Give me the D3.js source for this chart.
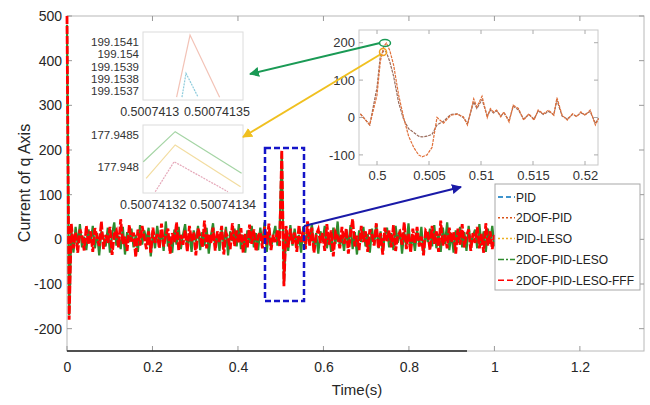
<!DOCTYPE html>
<html><head><meta charset="utf-8">
<script src="https://cdn.jsdelivr.net/npm/d3@7"></script>
<style>body{margin:0;background:#fff}svg{display:block;font-family:"Liberation Sans",Arial,sans-serif}</style>
</head><body><svg id="c" width="650" height="405"></svg>
<script>
// ---------------- data ----------------
const seriesNames = ["PID","2DOF-PID","PID-LESO","2DOF-PID-LESO","2DOF-PID-LESO-FFF"];
const xTicks = [0,0.2,0.4,0.6,0.8,1,1.2];
const xTickLabels = ["0","0.2","0.4","0.6","0.8","1","1.2"];
const yTicks = [500,400,300,200,100,0,-100,-200];
const timeStart = 0, timeEnd = 1.0;
// 2DOF-PID-LESO-FFF current (main view)
const fffCurrent = [500,-180,35,-20,15,-30,22,8,-25,30,
 -12,18,-28,25,5,-15,40,-22,10,-8,
 28,-35,12,20,-18,45,-10,6,-26,32,
 -5,15,-40,22,-14,30,3,-22,18,-30,
 26,-8,12,-20,35,-16,8,24,-32,14,
 -6,38,-24,10,-12,20,-28,30,-4,16,
 -36,24,8,-18,42,-20,12,-10,26,-25,
 18,-6,30,-34,14,4,-22,36,-15,20,
 -8,25,-30,12,-18,33,-10,22,-27,8,
 16,-20,28,-12,35,-24,10,-6,20,-15,
 200,-105,30,-18,24,-10,15,-28,32,-6,
 18,-22,40,-14,26,-30,10,22,-8,14,
 -26,34,-12,20,-38,16,6,-20,28,-10,
 24,-32,12,45,-16,8,-24,30,-6,18,
 -28,22,10,-14,36,-20,14,-34,26,-4,
 20,-18,32,-26,8,16,-12,38,-22,12,
 -30,24,-8,28,-16,6,-36,20,14,-24,
 30,-10,18,-28,42,-14,10,-20,26,-6,
 16,-32,24,-12,34,-18,8,22,-26,14,
 -8,28,-20,12,-30,36,-14,18,-22,10];
// 2DOF-PID-LESO current (main view)
const lesoCurrent = [480,-170,20,-30,28,-12,34,-18,6,-24,
 22,-8,30,-20,14,-36,18,4,-16,26,
 -30,12,38,-14,8,-22,28,-34,16,-6,
 24,-18,10,-28,32,-12,20,-4,26,-38,
 14,-20,30,-8,18,-26,40,-16,6,-30,
 22,-12,28,-22,10,34,-18,14,-28,20,
 -6,30,-24,16,-14,26,-32,8,36,-20,
 12,-26,22,-10,28,-36,18,-4,24,-16,
 34,-22,10,-30,20,-8,30,-18,14,-24,
 26,-12,38,-28,16,-20,8,30,-14,22,
 195,-100,20,-26,32,-14,24,-20,10,-30,
 28,-16,22,-8,36,-24,14,-32,18,-6,
 30,-20,12,-28,26,-10,40,-18,8,-26,
 22,-14,32,-22,16,-34,20,-6,28,-16,
 12,-30,24,-12,34,-20,18,-28,10,26,
 -18,14,-24,30,-8,22,-32,16,-14,36,
 -22,10,-26,20,-12,28,-34,18,-6,24,
 -16,32,-20,12,-28,26,-10,38,-24,14,
 -30,20,-8,28,-18,16,-26,30,-12,8,
 22,-20,34,-14,18,-28,24,-10,30,-16];
// zoomed inset (0.498 - 0.521 s)
const zoomTime = [0.4984,0.4993,0.5000,0.50032,0.50064,0.5009,0.50122,0.5016,0.50208,0.50256,
 0.50304,0.50353,0.5040,0.50433,0.50481,0.50529,0.50577,0.5064,0.5071,0.5077,
 0.5083,0.5087,0.5093,0.5096,0.5101,0.5106,0.5109,0.5112,0.5115,0.5119,
 0.5122,0.5127,0.5131,0.5136,0.5141,0.5146,0.5151,0.5155,0.5160,0.5165,
 0.5170,0.5173,0.5178,0.5183,0.5188,0.5192,0.5196,0.5200,0.5205,0.5210,0.5213];
const zoomA = [10,-20,60,150,190,199,180,140,60,0,
 -50,-80,-100,-105,-100,-80,0,-15,6,9,
 2,-20,50,28,57,0,24,15,20,2,
 15,-12,33,24,-7,10,-7,20,10,20,
 6,53,6,-7,10,2,15,6,20,-20,-3];
const zoomB = [10,-20,80,165,178,175,150,110,40,-5,
 -30,-40,-50,-52,-50,-45,-20,-10,8,10,
 0,-16,42,24,48,4,20,12,18,4,
 12,-8,30,20,-4,8,-4,18,8,16,
 8,46,4,-4,8,4,12,8,16,-16,-2];
// peak detail insets
const peak1Time = {pid:[0.500741324,0.500741327,0.500741336], dof:[0.50074132,0.50074133,0.500741352]};
const peak1Val  = {pid:[199.15365,199.153845,199.15365], dof:[199.15365,199.154157,199.15365]};
const peak2Time = {leso:[0.5007413172,0.5007413263,0.5007413453], pidleso:[0.500741318,0.5007413263,0.500741345], fff:[0.5007413206,0.500741326,0.5007413414]};
const peak2Val  = {leso:[177.948083,177.948552,177.947902], pidleso:[177.947823,177.948344,177.947692], fff:[177.947614,177.948083,177.947614]};
const peak1YTicks = [199.1541,199.154,199.1539,199.1538,199.1537];
const peak1XTicks = [0.5007413,0.50074135];
const peak2YTicks = [177.9485,177.948];
const peak2XTicks = [0.50074132,0.50074134];
const zoomXTicks = [0.5,0.505,0.51,0.515,0.52];
const zoomYTicks = [200,100,0,-100];

// ---------------- drawing ----------------
const svg = d3.select("#c");
const fmt = d => String(d);
const colors = {"PID":"#0072BD","2DOF-PID":"#D95319","PID-LESO":"#EDB120","2DOF-PID-LESO":"#2e8b2e","2DOF-PID-LESO-FFF":"#ff0000"};
const dashes = {"PID":"5,3","2DOF-PID":"2,2","PID-LESO":"2,2","2DOF-PID-LESO":"6,2,2,2","2DOF-PID-LESO-FFF":"6,3"};

const L=67,R=644,T=16,B=351;
const x = d3.scaleLinear().domain([0,1.35]).range([L,R]);
const y = d3.scaleLinear().domain([-250,500]).range([B,T]);

// box
svg.append("rect").attr("x",L).attr("y",T).attr("width",R-L).attr("height",B-T).attr("fill","#fff").attr("stroke","#b8b8b8").attr("stroke-width",1);
const g = svg.append("g");
xTicks.forEach(v=>{
  g.append("line").attr("x1",x(v)).attr("x2",x(v)).attr("y1",B).attr("y2",B-5).attr("stroke","#999");
  g.append("line").attr("x1",x(v)).attr("x2",x(v)).attr("y1",T).attr("y2",T+5).attr("stroke","#999");
});
yTicks.forEach(v=>{
  g.append("line").attr("x1",L).attr("x2",L+5).attr("y1",y(v)).attr("y2",y(v)).attr("stroke","#999");
  g.append("line").attr("x1",R).attr("x2",R-5).attr("y1",y(v)).attr("y2",y(v)).attr("stroke","#999");
});
svg.append("line").attr("x1",L).attr("x2",467).attr("y1",B).attr("y2",B).attr("stroke","#222").attr("stroke-width",1.5);

// tick labels
const xAx = d3.axisBottom(x).tickValues(xTicks).tickFormat((d,i)=>xTickLabels[i]).tickSize(0).tickPadding(11);
const xg = svg.append("g").attr("transform",`translate(0,${B})`).call(xAx);
xg.select(".domain").remove();
xg.selectAll("text").attr("font-size",14).attr("fill","#262626").attr("font-family","Liberation Sans, Arial");
const yAx = d3.axisLeft(y).tickValues(yTicks).tickFormat(fmt).tickSize(0).tickPadding(5);
const yg = svg.append("g").attr("transform",`translate(${L},0)`).call(yAx);
yg.select(".domain").remove();
yg.selectAll("text").attr("font-size",14).attr("fill","#262626").attr("font-family","Liberation Sans, Arial");

svg.append("text").attr("x",357).attr("y",395).attr("text-anchor","middle").attr("font-size",15).attr("fill","#262626").text("Time(s)");
svg.append("text").attr("transform","translate(30,183) rotate(-90)").attr("text-anchor","middle").attr("font-size",16).attr("fill","#262626").text("Current of q Axis");

// main series
const tOf = (arr,i)=> timeStart + (timeEnd-timeStart)*i/(arr.length-1);
const mainLine = arr => d3.line().x((d,i)=>x(tOf(arr,i))).y(d=>y(d))(arr);
svg.append("path").attr("d",mainLine(lesoCurrent)).attr("fill","none").attr("stroke",colors["2DOF-PID-LESO"]).attr("stroke-width",2.2);
svg.append("path").attr("d",mainLine(fffCurrent)).attr("fill","none").attr("stroke",colors["2DOF-PID-LESO-FFF"]).attr("stroke-width",2.8).attr("stroke-dasharray","8,2");

// blue dashed selection rectangle
svg.append("rect").attr("x",265).attr("y",148).attr("width",39).attr("height",153).attr("fill","none").attr("stroke","#1414c8").attr("stroke-width",2.5).attr("stroke-dasharray","6,3");

const defs = svg.append("defs");
function marker(id,col){
  defs.append("marker").attr("id",id).attr("viewBox","0 0 10 10").attr("refX",9).attr("refY",5).attr("markerWidth",5).attr("markerHeight",5).attr("orient","auto")
   .append("path").attr("d","M0,0 L10,5 L0,10 z").attr("fill",col);
}
marker("mb","#1a1aa8"); marker("mg","#1a9a55"); marker("my","#f0c020");

// legend
const lg = svg.append("g");
lg.append("rect").attr("x",495).attr("y",184).attr("width",145).attr("height",106).attr("fill","#fff").attr("stroke","#a8a8a8");
seriesNames.forEach((n,i)=>{
  const yy = 197 + i*20.8;
  lg.append("line").attr("x1",498).attr("x2",515).attr("y1",yy).attr("y2",yy).attr("stroke",colors[n]).attr("stroke-width",1.5).attr("stroke-dasharray",dashes[n]);
  lg.append("text").attr("x",516).attr("y",yy+4.5).attr("font-size",12).attr("fill","#222").text(n);
});

// big zoom inset
const zx = d3.scaleLinear().domain([0.498269,0.52125]).range([359,598]);
const zy = d3.scaleLinear().domain([-127,234]).range([165,30]);
svg.append("rect").attr("x",359).attr("y",30).attr("width",239).attr("height",135).attr("fill","#fff").attr("stroke","#c8c8c8");
zoomXTicks.forEach(v=>{
  svg.append("line").attr("x1",zx(v)).attr("x2",zx(v)).attr("y1",165).attr("y2",161).attr("stroke","#aaa");
  svg.append("line").attr("x1",zx(v)).attr("x2",zx(v)).attr("y1",30).attr("y2",34).attr("stroke","#aaa");
});
zoomYTicks.forEach(v=>{
  svg.append("line").attr("x1",359).attr("x2",363).attr("y1",zy(v)).attr("y2",zy(v)).attr("stroke","#aaa");
  svg.append("line").attr("x1",598).attr("x2",594).attr("y1",zy(v)).attr("y2",zy(v)).attr("stroke","#aaa");
});
const zxg = svg.append("g").attr("transform","translate(0,165)").call(d3.axisBottom(zx).tickValues(zoomXTicks).tickFormat(fmt).tickSize(0).tickPadding(6));
zxg.select(".domain").remove();
zxg.selectAll("text").attr("font-size",13).attr("fill","#333").attr("font-family","Liberation Sans, Arial");
const zyg = svg.append("g").attr("transform","translate(359,0)").call(d3.axisLeft(zy).tickValues(zoomYTicks).tickFormat(fmt).tickSize(0).tickPadding(4));
zyg.select(".domain").remove();
zyg.selectAll("text").attr("font-size",13).attr("fill","#333").attr("font-family","Liberation Sans, Arial");
const zLine = vals => d3.line().x((d,i)=>zx(zoomTime[i])).y(d=>zy(d))(vals);
svg.append("path").attr("d",zLine(zoomB)).attr("fill","none").attr("stroke","#9a6a5a").attr("stroke-width",1.2).attr("stroke-dasharray","3,1");
svg.append("path").attr("d",zLine(zoomA)).attr("fill","none").attr("stroke","#e0703a").attr("stroke-width",1.2).attr("stroke-dasharray","3,1");

// peak insets
function peakInset(x0,y0,w,h,xd,yd,xt,xtl,yt,ytl,lines){
  const sx = d3.scaleLinear().domain(xd).range([x0,x0+w]);
  const sy = d3.scaleLinear().domain(yd).range([y0+h,y0]);
  svg.append("rect").attr("x",x0).attr("y",y0).attr("width",w).attr("height",h).attr("fill","#fff").attr("stroke","#dcdcdc");
  lines.forEach(l=>{
    svg.append("path").attr("d",d3.line().x((d,i)=>sx(l.t[i])).y(d=>sy(d))(l.v)).attr("fill","none").attr("stroke",l.c).attr("stroke-width",1.2).attr("stroke-dasharray",l.dash||null).attr("opacity",0.55);
  });
  yt.forEach((v,i)=>svg.append("text").attr("x",x0-4).attr("y",sy(v)+4).attr("text-anchor","end").attr("font-size",11.5).attr("fill","#333").text(ytl[i]));
  xt.forEach((v,i)=>svg.append("text").attr("x",sx(v)).attr("y",y0+h+16).attr("text-anchor","middle").attr("font-size",12.5).attr("fill","#333").text(xtl[i]));
}
peakInset(143,32,100,68,[0.500741295,0.5007413694],[199.153627,199.154182],
  peak1XTicks,["0.5007413","0.50074135"],peak1YTicks,["199.1541","199.154","199.1539","199.1538","199.1537"],
  [{t:peak1Time.dof,v:peak1Val.dof,c:"#e8907a"},{t:peak1Time.pid,v:peak1Val.pid,c:"#30a0c0",dash:"2,1"}]);
peakInset(143,125,100,68,[0.5007413171,0.5007413457],[177.947594,177.948656],
  peak2XTicks,["0.50074132","0.50074134"],peak2YTicks,["177.9485","177.948"],
  [{t:peak2Time.leso,v:peak2Val.leso,c:"#5ab05a"},{t:peak2Time.pidleso,v:peak2Val.pidleso,c:"#e8c050"},{t:peak2Time.fff,v:peak2Val.fff,c:"#d06080",dash:"2,1"}]);

// arrows
svg.append("line").attr("x1",304).attr("y1",226).attr("x2",461).attr("y2",187).attr("stroke","#1a1aa8").attr("stroke-width",2).attr("marker-end","url(#mb)");
svg.append("line").attr("x1",380).attr("y1",43).attr("x2",250).attr("y2",74).attr("stroke","#1a9a55").attr("stroke-width",2).attr("marker-end","url(#mg)");
svg.append("line").attr("x1",381).attr("y1",54).attr("x2",243).attr("y2",137).attr("stroke","#f0c020").attr("stroke-width",2).attr("marker-end","url(#my)");
svg.append("ellipse").attr("cx",385).attr("cy",43).attr("rx",5.5).attr("ry",3.5).attr("fill","none").attr("stroke","#1a9a55").attr("stroke-width",1.5);
svg.append("circle").attr("cx",383).attr("cy",52).attr("r",3.5).attr("fill","none").attr("stroke","#f0a020").attr("stroke-width",1.5);
</script></body></html>
